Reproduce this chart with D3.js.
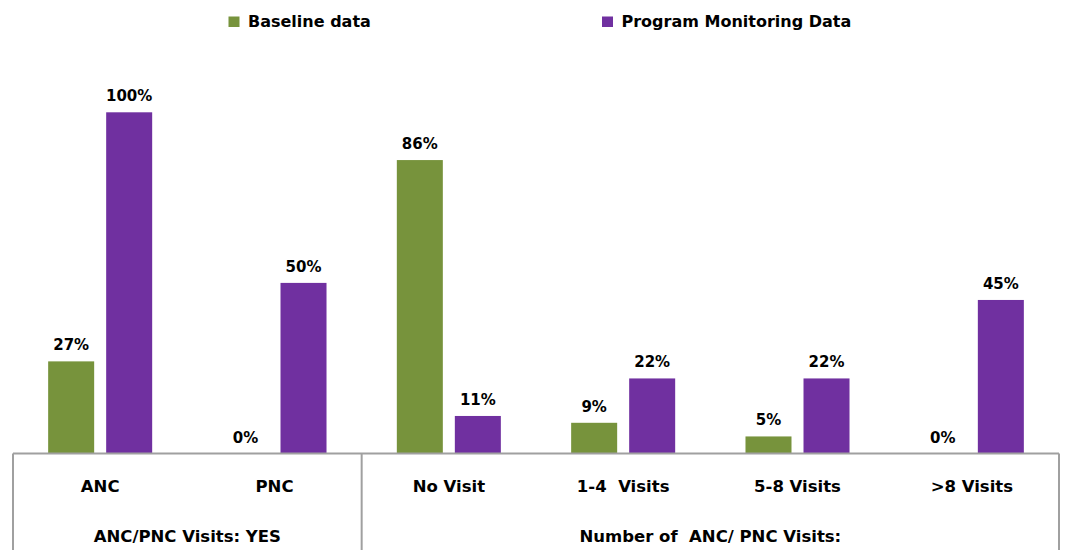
<!DOCTYPE html>
<html>
<head>
<meta charset="utf-8">
<script src="https://cdn.jsdelivr.net/npm/d3@7/dist/d3.min.js"></script>
<style>
  html, body { margin: 0; padding: 0; background: #ffffff; }
  svg { display: block; }
  text { font-family: "DejaVu Sans", sans-serif; font-weight: bold; fill: #000; white-space: pre; }
</style>
</head>
<body>
<svg id="chart" width="1068" height="550"></svg>
<script>
const categories = ["ANC", "PNC", "No Visit", "1-4  Visits", "5-8 Visits", ">8 Visits"];
const seriesNames = ["Baseline data", "Program Monitoring Data"];
const baseline = [27, 0, 86, 9, 5, 0];
const monitoring = [100, 50, 11, 22, 22, 45];
const groupLabels = ["ANC/PNC Visits: YES", "Number of  ANC/ PNC Visits:"];
const groupStart = [0, 2];
const groupEnd = [1, 5];
const colors = ["#77933C", "#7030A0"];

const svg = d3.select("#chart");
const left = 13, right = 1059, base = 453.5, top100 = 112.3;

const x0 = d3.scaleBand().domain(categories).range([left, right]).paddingInner(0).paddingOuter(0);
const x1 = d3.scaleBand().domain(seriesNames).range([0, x0.bandwidth()]).paddingInner(0.207).paddingOuter(0.606);
const y = d3.scaleLinear().domain([0, 100]).range([base, top100]);

const data = categories.map((c, i) => ({ cat: c, vals: [baseline[i], monitoring[i]] }));

const cg = svg.append("g").selectAll("g.cat").data(data).join("g")
  .attr("class", "cat")
  .attr("transform", d => `translate(${x0(d.cat)},0)`);

const items = d => d.vals.map((v, j) => ({ v, s: seriesNames[j], j }));

cg.selectAll("rect").data(items).join("rect")
  .attr("x", d => x1(d.s))
  .attr("width", x1.bandwidth())
  .attr("y", d => y(d.v))
  .attr("height", d => base - y(d.v))
  .attr("fill", d => colors[d.j]);

cg.selectAll("text.val").data(items).join("text")
  .attr("class", "val")
  .attr("x", d => x1(d.s) + x1.bandwidth() / 2)
  .attr("y", d => y(d.v) - 11)
  .attr("text-anchor", "middle")
  .style("font-size", "15px")
  .text(d => d.v + "%");

// table-like category axis
const ax = svg.append("g").attr("stroke", "#a0a0a0").attr("stroke-width", 2).attr("fill", "none");
ax.append("line").attr("x1", left).attr("x2", right).attr("y1", base).attr("y2", base);
const boundaries = [left, x0(categories[groupStart[1]]), right];
ax.selectAll("line.v").data(boundaries).join("line")
  .attr("class", "v")
  .attr("x1", d => d).attr("x2", d => d)
  .attr("y1", base).attr("y2", 550);

svg.selectAll("text.catlab").data(categories).join("text")
  .attr("class", "catlab")
  .attr("x", d => x0(d) + x0.bandwidth() / 2)
  .attr("y", 492)
  .attr("text-anchor", "middle")
  .style("font-size", "16.5px")
  .text(d => d);

svg.selectAll("text.grp").data(groupLabels).join("text")
  .attr("class", "grp")
  .attr("x", (d, i) => (x0(categories[groupStart[i]]) + x0(categories[groupEnd[i]]) + x0.bandwidth()) / 2)
  .attr("y", 542)
  .attr("text-anchor", "middle")
  .style("font-size", "16.5px")
  .text(d => d);

// legend
const legendX = [228.5, 602];
const lg = svg.selectAll("g.leg").data(seriesNames).join("g")
  .attr("class", "leg")
  .attr("transform", (d, i) => `translate(${legendX[i]},0)`);
lg.append("rect").attr("x", 0).attr("y", 16.5).attr("width", 11).attr("height", 10.5)
  .attr("fill", (d, i) => colors[i]);
lg.append("text").attr("x", 19.5).attr("y", 27).style("font-size", "16px").text(d => d);
</script>
</body>
</html>
